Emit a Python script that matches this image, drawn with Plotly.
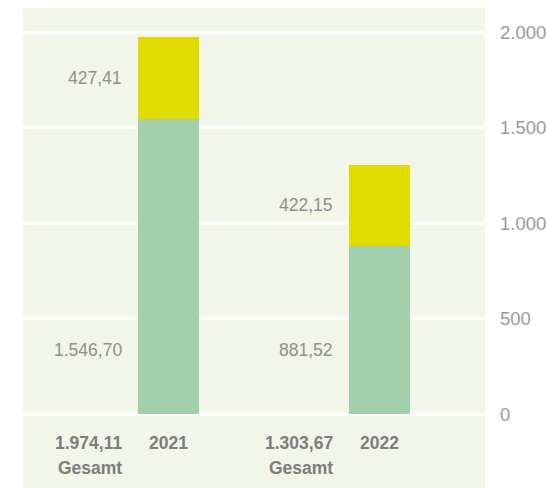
import plotly.graph_objects as go

# Daten
jahre = ["2021", "2022"]
wert_unten = [1546.70, 881.52]
wert_oben = [427.41, 422.15]
y_ticks = [0, 500, 1000, 1500, 2000]
y_tick_labels = ["0", "500", "1.000", "1.500", "2.000"]

GRUEN = "#a2d0ac"
GELB = "#e0dc00"
HINTERGRUND = "#f2f6e8"
GRAU = "#8f8f8f"
GRAU_FETT = "#7d7d7d"
SCHRIFT = "Liberation Sans, Arial, sans-serif"


def de_format(zahl):
    # deutsches Zahlenformat: 1.974,11
    s = f"{zahl:,.2f}"
    return s.replace(",", "X").replace(".", ",").replace("X", ".")


x_pos = list(range(len(jahre)))
balken_breite = 0.29

fig = go.Figure()
fig.add_trace(go.Bar(x=x_pos, y=wert_unten, width=balken_breite,
                     marker=dict(color=GRUEN, line=dict(width=0)),
                     hoverinfo="skip"))
fig.add_trace(go.Bar(x=x_pos, y=wert_oben, width=balken_breite,
                     marker=dict(color=GELB, line=dict(width=0)),
                     hoverinfo="skip"))

annotationen = []
for i, jahr in enumerate(jahre):
    links = x_pos[i] - balken_breite / 2
    gesamt = wert_unten[i] + wert_oben[i]
    # Wert des oberen Segments, in der Mitte des Segments
    annotationen.append(dict(x=links, y=wert_unten[i] + wert_oben[i] / 2,
                             text=de_format(wert_oben[i]), showarrow=False,
                             xanchor="right", xshift=-14,
                             font=dict(size=17.5, color=GRAU)))
    # Wert des unteren Segments, immer auf gleicher Höhe
    annotationen.append(dict(x=links, y=335, text=de_format(wert_unten[i]),
                             showarrow=False, xanchor="right", xshift=-14,
                             font=dict(size=17.5, color=GRAU)))
    # Beschriftung unter den Balken
    annotationen.append(dict(x=links, y=0, text="<b>" + de_format(gesamt) + "</b>",
                             showarrow=False, xanchor="right", xshift=-14,
                             yanchor="middle", yshift=-29,
                             font=dict(size=17.5, color=GRAU_FETT)))
    annotationen.append(dict(x=links, y=0, text="<b>Gesamt</b>",
                             showarrow=False, xanchor="right", xshift=-14,
                             yanchor="middle", yshift=-54,
                             font=dict(size=17.5, color=GRAU_FETT)))
    annotationen.append(dict(x=x_pos[i], y=0, text="<b>" + jahr + "</b>",
                             showarrow=False, xanchor="center",
                             yanchor="middle", yshift=-29,
                             font=dict(size=17.5, color=GRAU_FETT)))

# Seite hat 8px Rand im Browser -> Ränder entsprechend verschoben
fig.update_layout(
    width=554, height=488,
    margin=dict(l=15, r=77, t=0, b=8),
    paper_bgcolor="white",
    plot_bgcolor=HINTERGRUND,
    barmode="stack",
    bargap=0,
    showlegend=False,
    font=dict(family=SCHRIFT),
    annotations=annotationen,
    xaxis=dict(range=[-0.69, 1.5], showgrid=False, zeroline=False,
               showticklabels=False, ticks="", fixedrange=True),
    yaxis=dict(range=[-387, 2126], side="right", tickvals=y_ticks,
               ticktext=y_tick_labels, showgrid=True, gridcolor="white",
               gridwidth=3, zeroline=False, ticks="", ticklabelstandoff=14,
               tickfont=dict(size=18.5, color="#9a9a9a"), fixedrange=True),
)

fig.write_html("out.html")
